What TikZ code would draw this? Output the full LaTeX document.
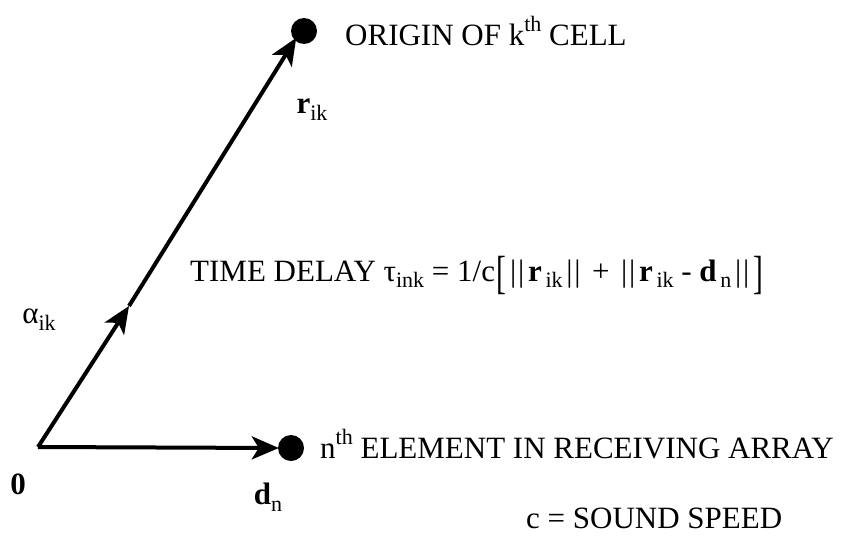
\documentclass[tikz,border=0pt]{standalone}
\usepackage{fontspec}
\setmainfont{Liberation Serif}
\usetikzlibrary{arrows.meta}
\newcommand{\bigbr}[1]{\raisebox{-0.24em}{\scalebox{0.95}[1.5]{#1}}}
\newcommand{\nrm}{\kern0.12em|\kern0.06em|\kern0.12em}
\newcommand{\mysub}[1]{\raisebox{-0.22em}{\fontsize{22}{24}\selectfont #1}}
\newcommand{\mysup}[1]{\raisebox{0.42em}{\fontsize{22}{24}\selectfont #1}}
\begin{document}
\begin{tikzpicture}[x=1pt,y=-1pt,
  dot/.style={circle,fill=black,inner sep=0pt,minimum size=26pt},
  vec/.style={line width=4pt,-{Stealth[length=27pt,width=23pt,inset=7pt]}},
  lbl/.style={inner sep=0pt,font=\fontsize{31}{35}\selectfont}]
\useasboundingbox (0,0) rectangle (864,544);
\coordinate (O) at (38,447);
\coordinate (M) at (129,306);
\node[dot] (K) at (304,31) {};
\node[dot] (N) at (291,448) {};
\draw[vec] (O) -- (M);
\draw[vec,shorten >=-3pt] (M) -- (K.south west);
\draw[vec,shorten >=-1pt] (O) -- (N.west);
\node[lbl,anchor=base west] (tk) at (345,45) {ORIGIN OF k\mysup{th} CELL};
\node[lbl] (rk) at (312,110) {\textbf{r}\mysub{ik}};
\node[lbl] (al) at (39,320) {α\mysub{ik}};
\node[lbl,anchor=base west] (td) at (190,281) {TIME DELAY τ\mysub{ink} = 1/c\kern0.05em\bigbr{[}\nrm\textbf{r}\mysub{\,ik}\nrm{} + \nrm\textbf{r}\mysub{\,ik} - \textbf{d}\mysub{\,n}\nrm\bigbr{]}};
\node[lbl] (z) at (18,484) {\textbf{0}};
\node[lbl] (dn) at (268,497) {\textbf{d}\mysub{n}};
\node[lbl,anchor=base west] (ne) at (320,458) {n\mysup{th} ELEMENT IN RECEIVING ARRAY};
\node[lbl,anchor=base west] (cs) at (526,528) {c = SOUND SPEED};
\end{tikzpicture}
\end{document}
